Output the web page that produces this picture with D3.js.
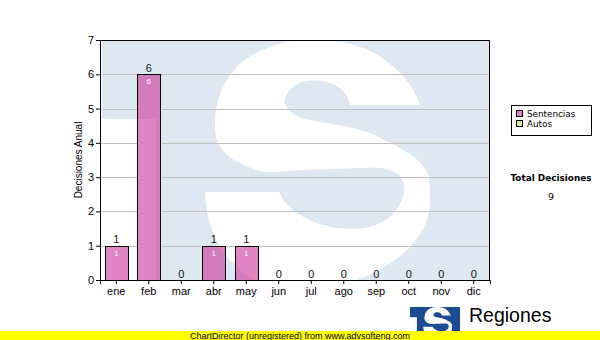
<!DOCTYPE html>
<html><head><meta charset="utf-8">
<script src="https://cdn.jsdelivr.net/npm/d3@7"></script>
<style>body{margin:0;background:#fff}svg{display:block}</style>
</head><body><div id="chart"></div>
<script>
// ---- data ----
const months = ["ene","feb","mar","abr","may","jun","jul","ago","sep","oct","nov","dic"];
const sentencias = [1,6,0,1,1,0,0,0,0,0,0,0];
const autos = [0,0,0,0,0,0,0,0,0,0,0,0];
const yTicks = [0,1,2,3,4,5,6,7];
const seriesNames = ["Sentencias","Autos"];
const seriesColors = ["#cc3399","#b8e070"];
const legendColors = ["#e080c0","#d4eea0"];
const yTitle = "Decisiones Anual";
const totalTitle = "Total Decisiones";
const logoText = "Regiones";
const footerText = "ChartDirector (unregistered) from www.advsofteng.com";

// ---- layout ----
const W = 600, H = 340;
const P = {l:100, t:40, r:490, b:280};
const svg = d3.select("#chart").append("svg").attr("width",W).attr("height",H)
  .style("font-family","'Liberation Sans', Arial, sans-serif");

const x = d3.scaleBand().domain(months).range([P.l,P.r]).paddingInner(0.28).paddingOuter(0.14);
const y = d3.scaleLinear().domain([0,7]).range([P.b,P.t]);

// ---- decorative "TS" mark (design box 390 x 240) ----
const runA = [[248,65],[245,56],[235,46],[220,41],[205,41],[192,46],[184,56],[183,64],[190,73],[200,78],
  [230,84],[262,91],[290,104],[312,117],[325,132],[328,150],[325,180],[308,207],[282,227],[255,240],
  [220,248],[185,248],[152,240],[135,227],[118,207],[107,180],[103,152]];
const runB = [[177,152],[183,162],[195,173],[215,183],[235,188],[268,187],[292,173],[302,152],[298,136],[285,129],
  [260,128],[230,129],[200,130],[170,132],[158,131],[140,124],[125,115],[115,100],[113,80],[115,65],[122,45],
  [140,22],[165,8],[190,1],[212,0],[240,2],[270,12],[295,30],[310,48],[318,65]];
const lg = d3.line().curve(d3.curveCatmullRom.alpha(0.5));
const sPath = lg(runA) + lg(runB).replace(/^M/,"L") + "Z";
function drawMark(g, bg, fg){
  g.append("rect").attr("x",0).attr("y",0).attr("width",390).attr("height",240).attr("fill",bg);
  g.append("rect").attr("x",0).attr("y",79).attr("width",54).attr("height",161).attr("fill",fg);
  g.append("path").attr("d",sPath).attr("fill",fg);
}

const defs = svg.append("defs");
defs.append("clipPath").attr("id","plotClip").append("rect")
  .attr("x",P.l).attr("y",P.t).attr("width",P.r-P.l).attr("height",P.b-P.t);
const barClip = defs.append("clipPath").attr("id","barClip");

// watermark
const wm = svg.append("g").attr("clip-path","url(#plotClip)")
  .append("g").attr("transform",`translate(${P.l+2},${P.t})`);
drawMark(wm,"#dee8f2","#ffffff");

// gridlines
svg.append("g").selectAll("line").data(yTicks.filter(d=>d>0 && d<7)).join("line")
  .attr("x1",P.l).attr("x2",P.r)
  .attr("y1",d=>Math.round(y(d))+0.5).attr("y2",d=>Math.round(y(d))+0.5)
  .attr("stroke","#c0c0c0");

// bars data
const rows = months.map((m,i)=>({m, s:sentencias[i], a:autos[i], t:sentencias[i]+autos[i]}));
const bw = Math.round(x.bandwidth());
const bx = d => Math.round(x(d.m))+0.5;

// underlay: watermark clipped to bars (hides grid under translucent bars)
barClip.selectAll("rect").data(rows.filter(d=>d.s>0)).join("rect")
  .attr("x",bx).attr("y",d=>Math.round(y(d.s))+0.5).attr("width",bw)
  .attr("height",d=>Math.round(y(0))-Math.round(y(d.s)));
const under = svg.append("g").attr("clip-path","url(#barClip)")
  .append("g").attr("transform",`translate(${P.l+2},${P.t})`);
drawMark(under,"#dee8f2","#ffffff");

// bars (Sentencias)
svg.append("g").selectAll("rect").data(rows.filter(d=>d.s>0)).join("rect")
  .attr("x",bx).attr("y",d=>Math.round(y(d.s))+0.5).attr("width",bw)
  .attr("height",d=>Math.round(y(0))-Math.round(y(d.s)))
  .attr("fill",seriesColors[0]).attr("fill-opacity",0.6)
  .attr("stroke","#000").attr("stroke-width",1);
// bars (Autos) stacked on top
svg.append("g").selectAll("rect").data(rows.filter(d=>d.a>0)).join("rect")
  .attr("x",bx).attr("y",d=>Math.round(y(d.t))+0.5).attr("width",bw)
  .attr("height",d=>Math.round(y(d.s))-Math.round(y(d.t)))
  .attr("fill",seriesColors[1]).attr("stroke","#000");

// frame
svg.append("rect").attr("x",P.l+0.5).attr("y",P.t+0.5).attr("width",P.r-P.l-1).attr("height",P.b-P.t)
  .attr("fill","none").attr("stroke","#000");

// axes
const yAx = svg.append("g").attr("transform",`translate(${P.l},0)`)
  .call(d3.axisLeft(y).tickValues(yTicks).tickSize(4).tickPadding(2).tickFormat(d3.format("d")));
const xAx = svg.append("g").attr("transform",`translate(0,${P.b})`)
  .call(d3.axisBottom(x).tickSize(4).tickPadding(3));
[yAx,xAx].forEach(a=>{
  a.selectAll("text").attr("font-size",11).attr("fill","#000")
   .attr("font-family","'Liberation Sans', Arial, sans-serif");
  a.selectAll("line,path").attr("stroke","#000");
});

// value labels
svg.append("g").selectAll("text").data(rows).join("text")
  .attr("x",d=>x(d.m)+x.bandwidth()/2).attr("y",d=>y(d.t)-2.5)
  .attr("text-anchor","middle").attr("font-size",11).attr("fill","#111")
  .text(d=>d.t);
svg.append("g").selectAll("text").data(rows.filter(d=>d.s>0)).join("text")
  .attr("x",d=>x(d.m)+x.bandwidth()/2).attr("y",d=>y(d.s)+10)
  .attr("text-anchor","middle").attr("font-size",8).attr("fill","#fff")
  .text(d=>d.s);

// y title
svg.append("text").attr("transform",`translate(82,${(P.t+P.b)/2}) rotate(-90)`)
  .attr("text-anchor","middle").attr("font-size",10).attr("fill","#000").text(yTitle);

// legend
const leg = svg.append("g").style("font-family","'DejaVu Sans', Verdana, sans-serif");
leg.append("rect").attr("x",511.5).attr("y",105.5).attr("width",80).attr("height",30)
  .attr("fill","#fff").attr("stroke","#000");
seriesNames.forEach((n,i)=>{
  leg.append("rect").attr("x",516.5).attr("y",110.5+i*10).attr("width",6).attr("height",6)
    .attr("fill",legendColors[i]).attr("stroke","#000");
  leg.append("text").attr("x",527).attr("y",117+i*10).attr("font-size",8.8).attr("fill","#000").text(n);
});

// total
const total = d3.sum(sentencias)+d3.sum(autos);
svg.append("text").attr("x",551).attr("y",181).attr("text-anchor","middle")
  .attr("font-family","'DejaVu Sans', Verdana, sans-serif").attr("font-weight","bold")
  .attr("font-size",8.9).attr("fill","#000").text(totalTitle);
svg.append("text").attr("x",551).attr("y",200).attr("text-anchor","middle")
  .attr("font-family","'DejaVu Sans', Verdana, sans-serif")
  .attr("font-size",9.5).attr("fill","#000").text(total);

// logo
defs.append("clipPath").attr("id","logoClip").append("rect")
  .attr("x",0).attr("y",0).attr("width",390).attr("height",240);
const logo = svg.append("g").attr("transform",`translate(410,307) scale(${50/390},${31/240})`)
  .append("g").attr("clip-path","url(#logoClip)");
drawMark(logo,"#1b4b91","#ffffff");
svg.append("text").attr("x",469).attr("y",322).attr("font-size",19.5).attr("fill","#000").text(logoText);

// footer
svg.append("rect").attr("x",0).attr("y",331).attr("width",W).attr("height",9).attr("fill","#ffff00");
svg.append("text").attr("x",300).attr("y",339).attr("text-anchor","middle")
  .attr("font-size",9).attr("fill","#000").text(footerText);
</script></body></html>
